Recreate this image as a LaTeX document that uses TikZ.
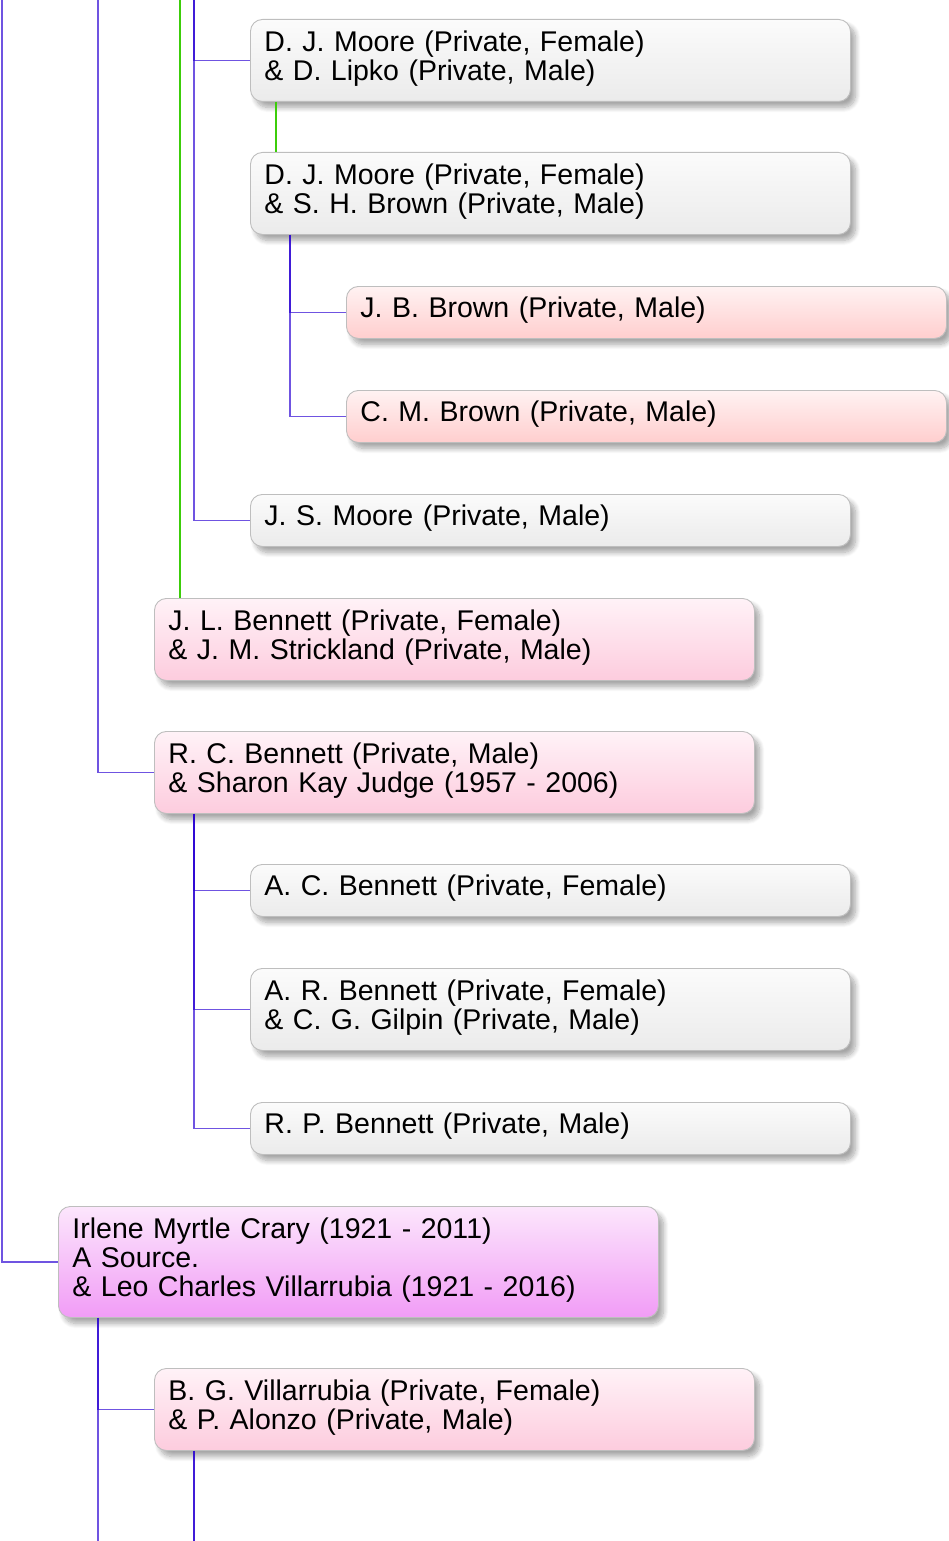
\documentclass[tikz,border=0pt]{standalone}
\usepackage{fontspec}
\setmainfont{Liberation Sans}
\usetikzlibrary{calc,shadows.blur}
\definecolor{lnc}{RGB}{40,0,210}
\definecolor{grn}{RGB}{60,205,10}
\definecolor{bord}{RGB}{190,190,190}
\begin{document}
\begin{tikzpicture}[x=1pt,y=-1pt,
  box/.style={draw=bord, line width=0.9pt, rounded corners=12pt, anchor=north west,
    text width=572pt, align=left, inner xsep=14pt, inner ysep=0pt,
    font=\fontsize{28.5}{29}\selectfont,
    execute at end node={\rule[-10.5pt]{0pt}{1pt}},
    blur shadow={shadow xshift=5pt, shadow yshift=-6pt, shadow blur steps=10, shadow blur radius=5pt, shadow opacity=35}},
  greybox/.style={box, top color={rgb,255:red,251;green,251;blue,251}, bottom color={rgb,255:red,235;green,235;blue,235}},
  pinkbox/.style={box, top color={rgb,255:red,255;green,242;blue,247}, bottom color={rgb,255:red,253;green,204;blue,222}},
  redbox/.style={box, top color={rgb,255:red,255;green,242;blue,242}, bottom color={rgb,255:red,255;green,206;blue,206}},
  magbox/.style={box, top color={rgb,255:red,252;green,230;blue,252}, bottom color={rgb,255:red,241;green,156;blue,246}},
  conn/.style={draw=lnc, draw opacity=0.67, line width=1.4pt},
  gconn/.style={draw=grn, line width=1.3pt}]
\useasboundingbox (0,0) rectangle (949,1541);

\node[greybox, minimum height=82pt] (b1) at (250,19) {D. J. Moore (Private, Female)\\\& D. Lipko (Private, Male)};
\node[greybox, minimum height=82pt] (b2) at (250,152) {D. J. Moore (Private, Female)\\\& S. H. Brown (Private, Male)};
\node[redbox, minimum height=52pt] (b3) at (346,286) {J. B. Brown (Private, Male)};
\node[redbox, minimum height=52pt] (b4) at (346,390) {C. M. Brown (Private, Male)};
\node[greybox, minimum height=52pt] (b5) at (250,494) {J. S. Moore (Private, Male)};
\node[pinkbox, minimum height=82pt] (b6) at (154,598) {J. L. Bennett (Private, Female)\\\& J. M. Strickland (Private, Male)};
\node[pinkbox, minimum height=82pt] (b7) at (154,731) {R. C. Bennett (Private, Male)\\\& Sharon Kay Judge (1957 - 2006)};
\node[greybox, minimum height=52pt] (b8) at (250,864) {A. C. Bennett (Private, Female)};
\node[greybox, minimum height=82pt] (b9) at (250,968) {A. R. Bennett (Private, Female)\\\& C. G. Gilpin (Private, Male)};
\node[greybox, minimum height=52pt] (b10) at (250,1102) {R. P. Bennett (Private, Male)};
\node[magbox, minimum height=111pt] (b11) at (58,1206) {Irlene Myrtle Crary (1921 - 2011)\\A Source.\\\& Leo Charles Villarrubia (1921 - 2016)};
\node[pinkbox, minimum height=82pt] (b12) at (154,1368) {B. G. Villarrubia (Private, Female)\\\& P. Alonzo (Private, Male)};

\coordinate (t2) at (2,0);
\coordinate (t98) at (98,0);
\coordinate (t180) at (180,0);
\coordinate (t194) at (194,0);
\coordinate (e98) at (98,1541);
\coordinate (e194) at (194,1541);

\draw[conn] (t2) |- (b11.west);
\draw[conn] (t98) |- (b7.west);
\draw[conn] (t194) |- (b1.west);
\draw[conn] (t194) |- (b5.west);
\draw[gconn] (t180) -- (t180 |- b6.north);
\draw[gconn] ($(b1.south west)+(26,0)$) -- ($(b2.north west)+(26,0)$);
\draw[conn] ($(b2.south west)+(40,0)$) |- (b3.west);
\draw[conn] ($(b2.south west)+(40,0)$) |- (b4.west);
\draw[conn] ($(b7.south west)+(40,0)$) |- (b8.west);
\draw[conn] ($(b7.south west)+(40,0)$) |- (b9.west);
\draw[conn] ($(b7.south west)+(40,0)$) |- (b10.west);
\draw[conn] ($(b11.south west)+(40,0)$) |- (b12.west);
\draw[conn] ($(b11.south west)+(40,0)$) -- (e98);
\draw[conn] ($(b12.south west)+(40,0)$) -- (e194);
\draw[conn] ($(b12.south west)+(40,0)$) -- (e194);
\end{tikzpicture}
\end{document}
